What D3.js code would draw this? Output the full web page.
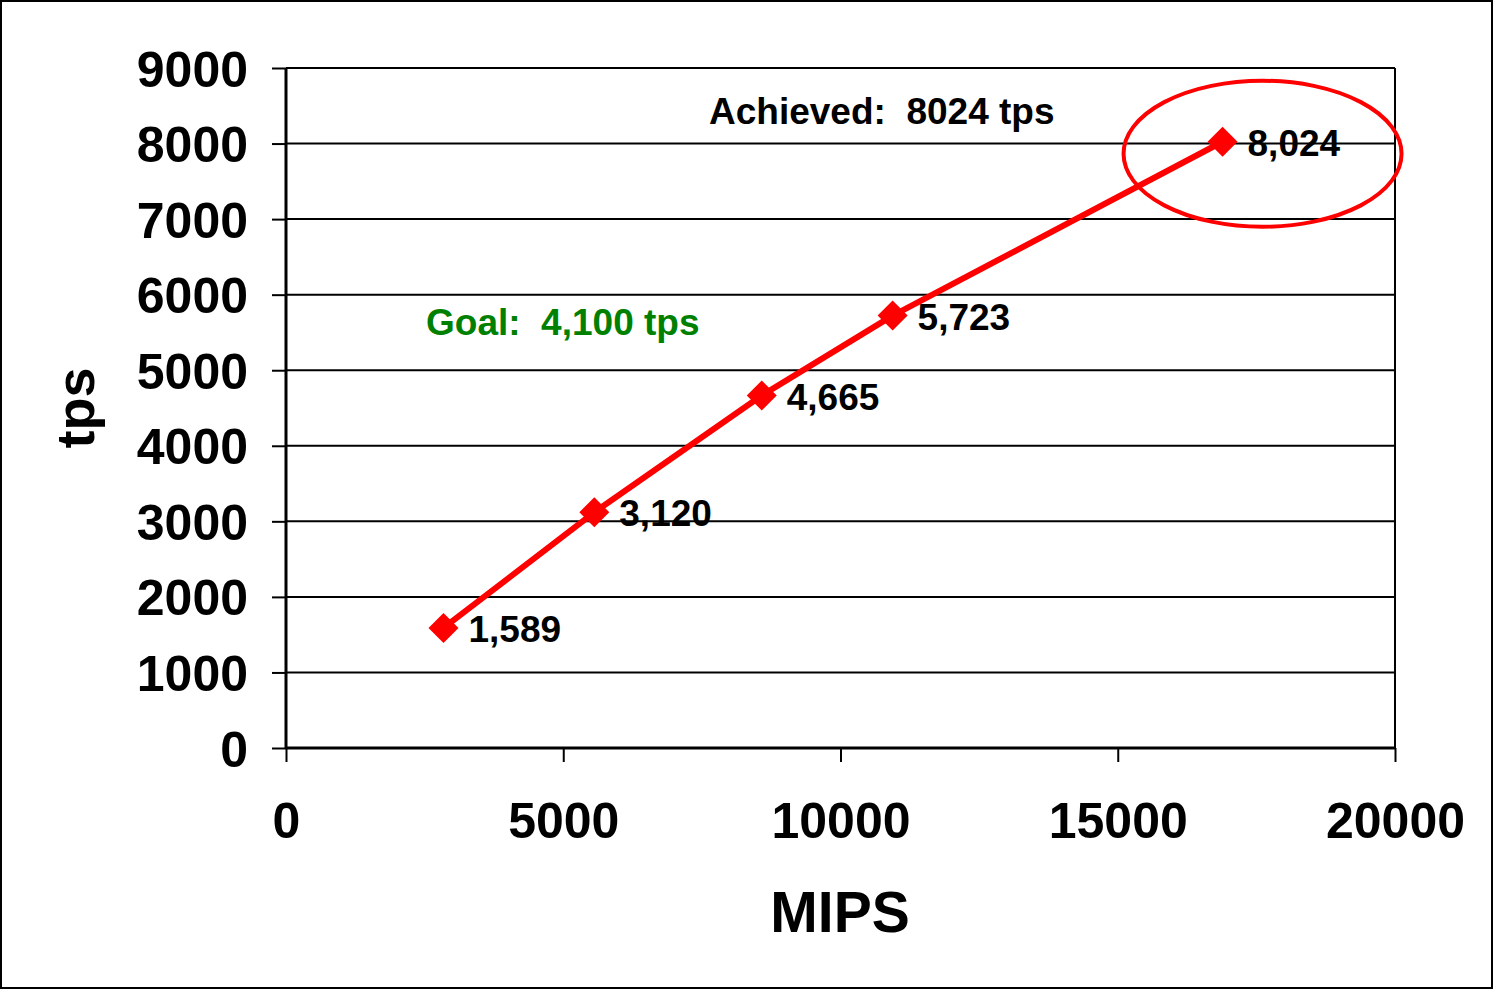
<!DOCTYPE html>
<html><head><meta charset="utf-8">
<script src="https://cdn.jsdelivr.net/npm/d3@7"></script>
<style>html,body{margin:0;padding:0;background:#fff;} text{font-family:"Liberation Sans",Arial,sans-serif;font-weight:bold;white-space:pre;}</style>
</head><body>
<svg id="chart" width="1494" height="990"></svg>
<script>
const mips = [2840, 5560, 8580, 10940, 16890];
const tps = [1589, 3120, 4665, 5723, 8024];
const xTicks = [0, 5000, 10000, 15000, 20000];
const yTicks = [0, 1000, 2000, 3000, 4000, 5000, 6000, 7000, 8000, 9000];
const xTitle = "MIPS";
const yTitle = "tps";
const goalText = "Goal:  4,100 tps";
const achievedText = "Achieved:  8024 tps";

const svg = d3.select("#chart");
svg.append("rect").attr("x",1).attr("y",1).attr("width",1491).attr("height",987)
  .attr("fill","#fff").attr("stroke","#000").attr("stroke-width",2);

const x = d3.scaleLinear().domain([0,20000]).range([286,1395]);
const y = d3.scaleLinear().domain([0,9000]).range([748,68]);

// gridlines
svg.append("g").selectAll("line").data(yTicks.filter(d=>d>0)).join("line")
  .attr("x1",x(0)).attr("x2",x(20000)).attr("y1",d=>y(d)).attr("y2",d=>y(d))
  .attr("stroke","#000").attr("stroke-width",2);
// right frame
svg.append("line").attr("x1",x(20000)).attr("x2",x(20000)).attr("y1",y(9000)).attr("y2",y(0))
  .attr("stroke","#000").attr("stroke-width",2);

// y axis
const yAxis = svg.append("g").attr("transform",`translate(${x(0)},0)`)
  .call(d3.axisLeft(y).tickValues(yTicks).tickSize(14).tickPadding(24).tickFormat(d3.format("d")));
yAxis.select(".domain").attr("stroke-width",3).attr("d",`M0,${y(9000)}V${y(0)}`);
yAxis.selectAll(".tick line").attr("stroke-width",2);
yAxis.selectAll(".tick text").attr("font-size",50).attr("fill","#000").attr("dy","0.36em")
  .style("font-family","'Liberation Sans',Arial,sans-serif").style("font-weight","bold");

// x axis
const xAxis = svg.append("g").attr("transform",`translate(0,${y(0)})`)
  .call(d3.axisBottom(x).tickValues(xTicks).tickSize(14).tickPadding(54).tickFormat(d3.format("d")));
xAxis.select(".domain").attr("stroke-width",3).attr("d",`M${x(0)},0H${x(20000)}`);
xAxis.selectAll(".tick line").attr("stroke-width",2);
xAxis.selectAll(".tick text").attr("font-size",50).attr("fill","#000").attr("dy","0")
  .style("font-family","'Liberation Sans',Arial,sans-serif").style("font-weight","bold");
xAxis.selectAll(".tick text").attr("y",90);

// axis titles
svg.append("text").attr("x",840).attr("y",932).attr("text-anchor","middle")
  .attr("font-size",57).text(xTitle);
svg.append("text").attr("transform","translate(94,408) rotate(-90)").attr("text-anchor","middle")
  .attr("font-size",54).text(yTitle);

// series line
const pts = mips.map((m,i)=>({m, t:tps[i]}));
svg.append("path").datum(pts)
  .attr("d", d3.line().x(d=>x(d.m)).y(d=>y(d.t)))
  .attr("fill","none").attr("stroke","#ff0000").attr("stroke-width",6).attr("stroke-linejoin","round");

svg.append("g").selectAll("path").data(pts).join("path")
  .attr("d", d3.symbol().type(d3.symbolSquare).size(450))
  .attr("transform", d=>`translate(${x(d.m)},${y(d.t)}) rotate(45)`)
  .attr("fill","#ff0000");

svg.append("g").selectAll("text").data(pts).join("text")
  .attr("x", d=>x(d.m)+25).attr("y", d=>y(d.t)+14)
  .attr("font-size",37).attr("fill","#000").text(d=>d3.format(",")(d.t));

// annotations
svg.append("text").attr("x",426).attr("y",335).attr("font-size",37).attr("fill","#008000").text(goalText);
svg.append("text").attr("x",709).attr("y",124).attr("font-size",37).attr("fill","#000").text(achievedText);

// highlight ellipse around achieved point
const last = pts[pts.length-1];
svg.append("ellipse").attr("cx",x(last.m)+40).attr("cy",y(last.t)+12)
  .attr("rx",139).attr("ry",73).attr("fill","none").attr("stroke","#ff0000").attr("stroke-width",4);
</script>
</body></html>
